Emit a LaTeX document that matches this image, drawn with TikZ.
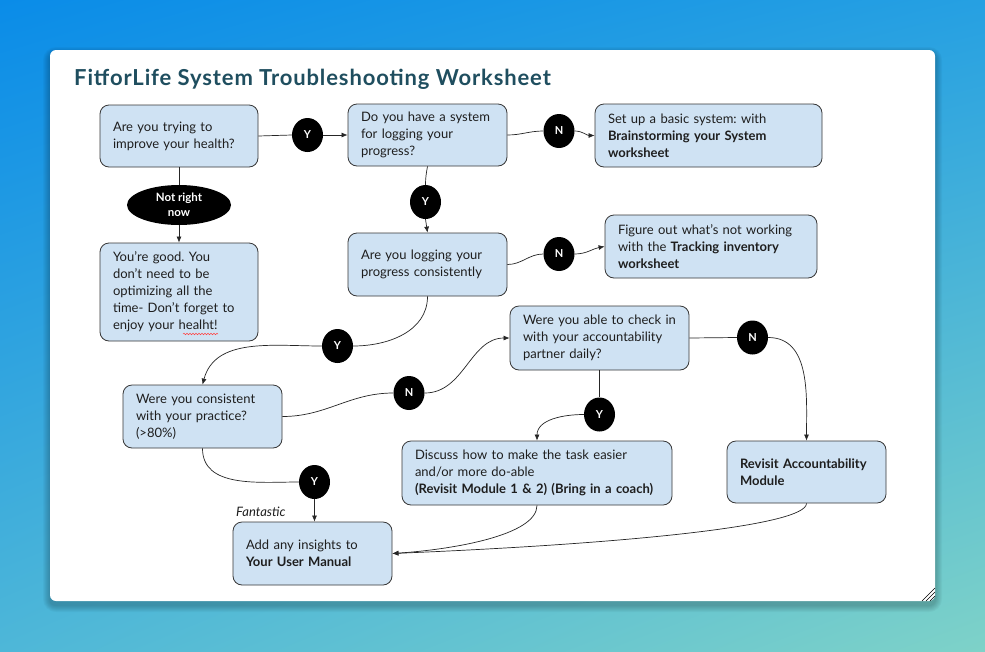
\documentclass[tikz,border=0pt]{standalone}
\usepackage{fontspec}
\setmainfont{Lato}
\newfontfamily\titlefont[LetterSpace=4]{Lato}
\usetikzlibrary{arrows.meta,shapes.geometric,shadings,decorations.pathmorphing}
\definecolor{boxblue}{RGB}{207,226,243}
\definecolor{titlecol}{RGB}{31,78,95}
\definecolor{txt}{RGB}{30,30,30}
\definecolor{edgecol}{RGB}{55,55,55}
\definecolor{bgA}{RGB}{10,140,232}
\definecolor{bgB}{RGB}{38,160,226}
\definecolor{bgC}{RGB}{78,183,216}
\definecolor{bgD}{RGB}{126,210,200}
\frenchspacing
\begin{document}
\begin{tikzpicture}[x=1pt,y=-1pt,
 qbox/.style={draw=edgecol, fill=boxblue, rounded corners=9pt, line width=0.8pt, align=left, inner xsep=13pt, inner ysep=0pt, text=txt, font=\fontsize{13}{17}\selectfont},
 yn/.style={ellipse, fill=black, minimum width=31pt, minimum height=34pt, inner sep=0pt, text=white, font=\bfseries\fontsize{11}{12}\selectfont},
 conn/.style={line width=0.7pt, draw=black!85},
 arr/.style={conn, -{Latex[length=6pt,width=5pt]}}
]
\useasboundingbox (0,0) rectangle (985,651);
\shade[upper left=bgA, upper right=bgB, lower left=bgC, lower right=bgD] (0,0) rectangle (985,651);
% card shadow
\foreach \i in {1,...,7}{
  \fill[black, opacity=0.03, rounded corners=6pt+\i pt] (50-\i,50-\i+4) rectangle (935+\i,601+\i+4);
}
\fill[white, rounded corners=6pt] (50,50) rectangle (935,601);
\draw[black, line width=0.6pt] (922,601) -- (935,588) (926,601) -- (935,592) (930,601) -- (935,596);

\node[anchor=base west, font=\titlefont\bfseries\fontsize{22}{26}\selectfont, text=titlecol, inner sep=0pt] (title) at (74,85) {FitforLife System Troubleshooting Worksheet};

% boxes
\node[qbox, text width=132pt, minimum height=62pt] (A) at (179,136) {Are you trying to\\improve your health?};
\node[qbox, text width=133pt, minimum height=62pt] (B) at (427.5,135) {Do you have a system\\for logging your\\progress?};
\node[qbox, text width=201pt, minimum height=63pt] (C) at (708.5,135.5) {Set up a basic system: with\\\textbf{Brainstorming your System}\\\textbf{worksheet}};
\node[ellipse, fill=black, minimum width=104pt, minimum height=40pt, inner sep=0pt, text=white, align=center, font=\bfseries\fontsize{11.5}{15}\selectfont] (NR) at (179,205) {Not right\\now};
\node[qbox, text width=132pt, minimum height=98pt] (D) at (179,292) {You’re good. You\\don’t need to be\\optimizing all the\\time- Don’t forget to\\enjoy your healht!};
\draw[red!75, line width=0.5pt, decorate, decoration={snake, segment length=3pt, amplitude=0.8pt}] (183,334) -- (218,334);
\node[qbox, text width=133pt, minimum height=63pt] (E) at (427.5,264.5) {Are you logging your\\progress consistently};
\node[qbox, text width=186pt, minimum height=63pt] (F) at (711,246.5) {Figure out what’s not working\\with the \textbf{Tracking inventory}\\\textbf{worksheet}};
\node[qbox, text width=133pt, minimum height=63pt] (G) at (202.5,416.5) {Were you consistent\\with your practice?\\(>80\%)};
\node[qbox, text width=153pt, minimum height=64pt] (H) at (599.5,338) {Were you able to check in\\with your accountability\\partner daily?};
\node[qbox, text width=244pt, minimum height=64pt] (I) at (537,473) {Discuss how to make the task easier\\and/or more do-able\\\textbf{(Revisit Module 1 \& 2) (Bring in a coach)}};
\node[qbox, text width=133pt, minimum height=62pt] (J) at (806.5,472) {\textbf{Revisit Accountability}\\\textbf{Module}};
\node[qbox, text width=133pt, minimum height=63pt] (K) at (312.5,553.5) {Add any insights to\\\textbf{Your User Manual}};
\node[anchor=base west, inner sep=0pt, text=txt, font=\itshape\fontsize{13}{15}\selectfont] (fant) at (236,516) {Fantastic};

% Y / N markers
\node[yn] (y1) at (307.5,135) {Y};
\node[yn] (n1) at (559,131) {N};
\node[yn] (y2) at (425.5,202) {Y};
\node[yn] (n2) at (559,254) {N};
\node[yn] (y3) at (337.5,346) {Y};
\node[yn] (n3) at (409,393) {N};
\node[yn] (n4) at (752.5,337.5) {N};
\node[yn] (y4) at (599.5,414.5) {Y};
\node[yn] (y5) at (314.5,482) {Y};

% connectors
\draw[conn] (A.east) -- (y1.west);
\draw[arr] (y1.east) -- (B.west);
\draw[conn] (B.east) to[out=0,in=180] (n1.west);
\draw[arr] (n1.east) to[out=0,in=180] (C.west);
\draw[conn] (A.south) -- (NR.north);
\draw[arr] (NR.south) -- (D.north);
\draw[conn] (B.south) to[out=-100,in=90] (y2.north);
\draw[arr] (y2.south) -- (E.north);
\draw[conn] (E.east) to[out=0,in=180] (n2.west);
\draw[arr] (n2.east) to[out=0,in=190] (F.west);
\draw[conn] (E.south) to[out=-90,in=0] (y3.east);
\draw[arr] (y3.west) to[out=180,in=75] (G.north);
\draw[conn] (G.east) to[out=0,in=180] (n3.west);
\draw[arr] (n3.east) to[out=0,in=180] (H.west);
\draw[conn] (H.east) -- (n4.west);
\draw[arr] (n4.east) to[out=0,in=90] (J.north);
\draw[conn] (H.south) -- (y4.north);
\draw[arr] (y4.west) to[out=180,in=90] (I.north);
\draw[conn] (G.south) to[out=-90,in=180] (y5.west);
\draw[arr] (y5.south) -- (y5.south |- K.north);
\draw[arr] (I.south) .. controls ([yshift=-30pt]I.south) and ([xshift=60pt,yshift=4pt]K.east) .. (K.east);
\draw[arr] (J.south) .. controls ([yshift=-22pt]J.south) and ([xshift=240pt,yshift=10pt]K.east) .. (K.east);
\end{tikzpicture}
\end{document}
